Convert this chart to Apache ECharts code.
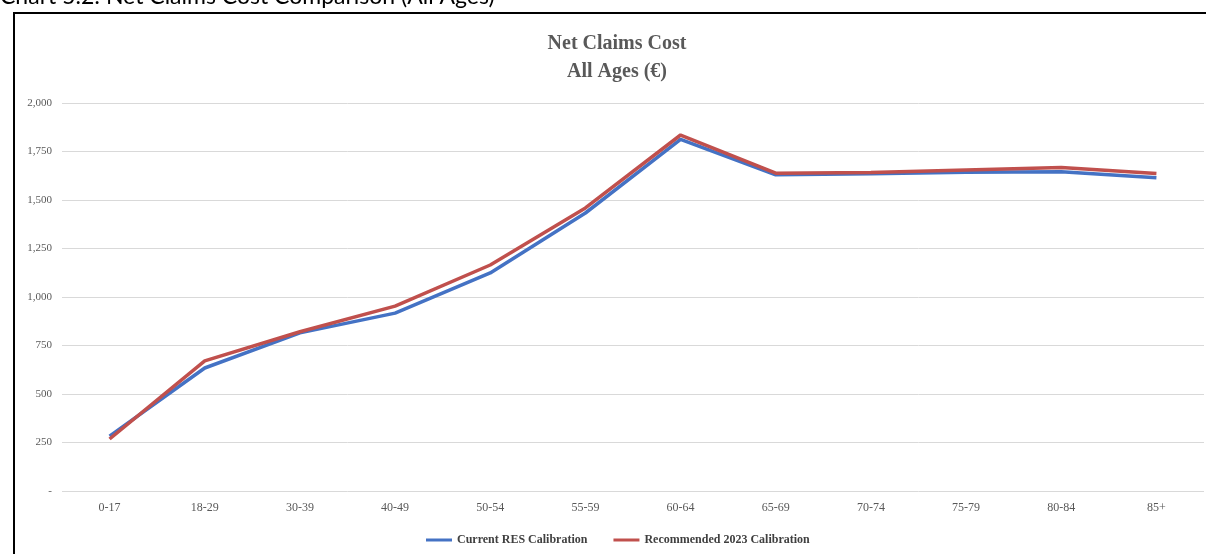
<!DOCTYPE html>
<html>
<head>
<meta charset="utf-8">
<script src="https://cdn.jsdelivr.net/npm/echarts@6/dist/echarts.min.js"></script>
<style>
  html, body { margin: 0; padding: 0; background: #fff; }
  #chart { width: 1206px; height: 554px; }
</style>
</head>
<body>
<div id="chart"></div>
<script>
// Age bands along the x axis
const ageBands = ['0-17', '18-29', '30-39', '40-49', '50-54', '55-59', '60-64', '65-69', '70-74', '75-79', '80-84', '85+'];
// Net claims cost per age band (€)
const currentRES = [283, 634, 815, 917, 1124, 1433, 1812, 1630, 1635, 1643, 1646, 1615];
const recommended2023 = [268, 671, 821, 953, 1165, 1459, 1835, 1638, 1642, 1655, 1668, 1637];
// Value axis ticks
const yMin = 0, yMax = 2000, yStep = 250;

const serif = '"Liberation Serif", "DejaVu Serif", serif';
const chart = echarts.init(document.getElementById('chart'));

chart.setOption({
  animation: false,
  backgroundColor: '#ffffff',
  title: {
    text: 'Net Claims Cost\nAll Ages (€)',
    left: 612,
    textAlign: 'center',
    top: 25,
    textStyle: { fontFamily: serif, fontWeight: 'bold', fontSize: 20, color: '#595959', lineHeight: 28 }
  },
  graphic: [
    {
      type: 'rect', z: 100, silent: true,
      shape: { x: 14, y: 13, width: 1200, height: 560 },
      style: { fill: 'none', stroke: '#000', lineWidth: 2 }
    },
    {
      type: 'text', left: 0, top: -15,
      style: { text: 'Chart 5.2: Net Claims Cost Comparison (All Ages)', font: '23px Lato, "Liberation Sans", sans-serif', fill: '#000' }
    }
  ],
  legend: {
    bottom: 3,
    left: 421,
    itemGap: 26,
    itemWidth: 26,
    itemHeight: 3,
    icon: 'rect',
    textStyle: { fontFamily: serif, fontWeight: 'bold', fontSize: 12, color: '#404040' },
    data: ['Current RES Calibration', 'Recommended 2023 Calibration']
  },
  grid: { left: 62, right: 2, top: 103, bottom: 63 },
  xAxis: {
    type: 'category',
    data: ageBands,
    boundaryGap: true,
    axisLine: { show: false },
    axisTick: { show: false },
    axisLabel: { fontFamily: serif, fontSize: 12, color: '#595959', margin: 11 }
  },
  yAxis: {
    type: 'value',
    min: yMin, max: yMax, interval: yStep,
    axisLine: { show: false },
    axisTick: { show: false },
    splitLine: { lineStyle: { color: '#d9d9d9', width: 1 } },
    axisLabel: {
      fontFamily: serif, fontSize: 11, color: '#595959', margin: 10,
      formatter: v => v === 0 ? '-' : v.toLocaleString('en-US')
    }
  },
  series: [
    {
      name: 'Current RES Calibration', type: 'line', data: currentRES,
      symbol: 'none', color: '#4472c4',
      lineStyle: { width: 3.5, color: '#4472c4' }
    },
    {
      name: 'Recommended 2023 Calibration', type: 'line', data: recommended2023,
      symbol: 'none', color: '#c0504d',
      lineStyle: { width: 3.5, color: '#c0504d' }
    }
  ]
});
</script>
</body>
</html>
